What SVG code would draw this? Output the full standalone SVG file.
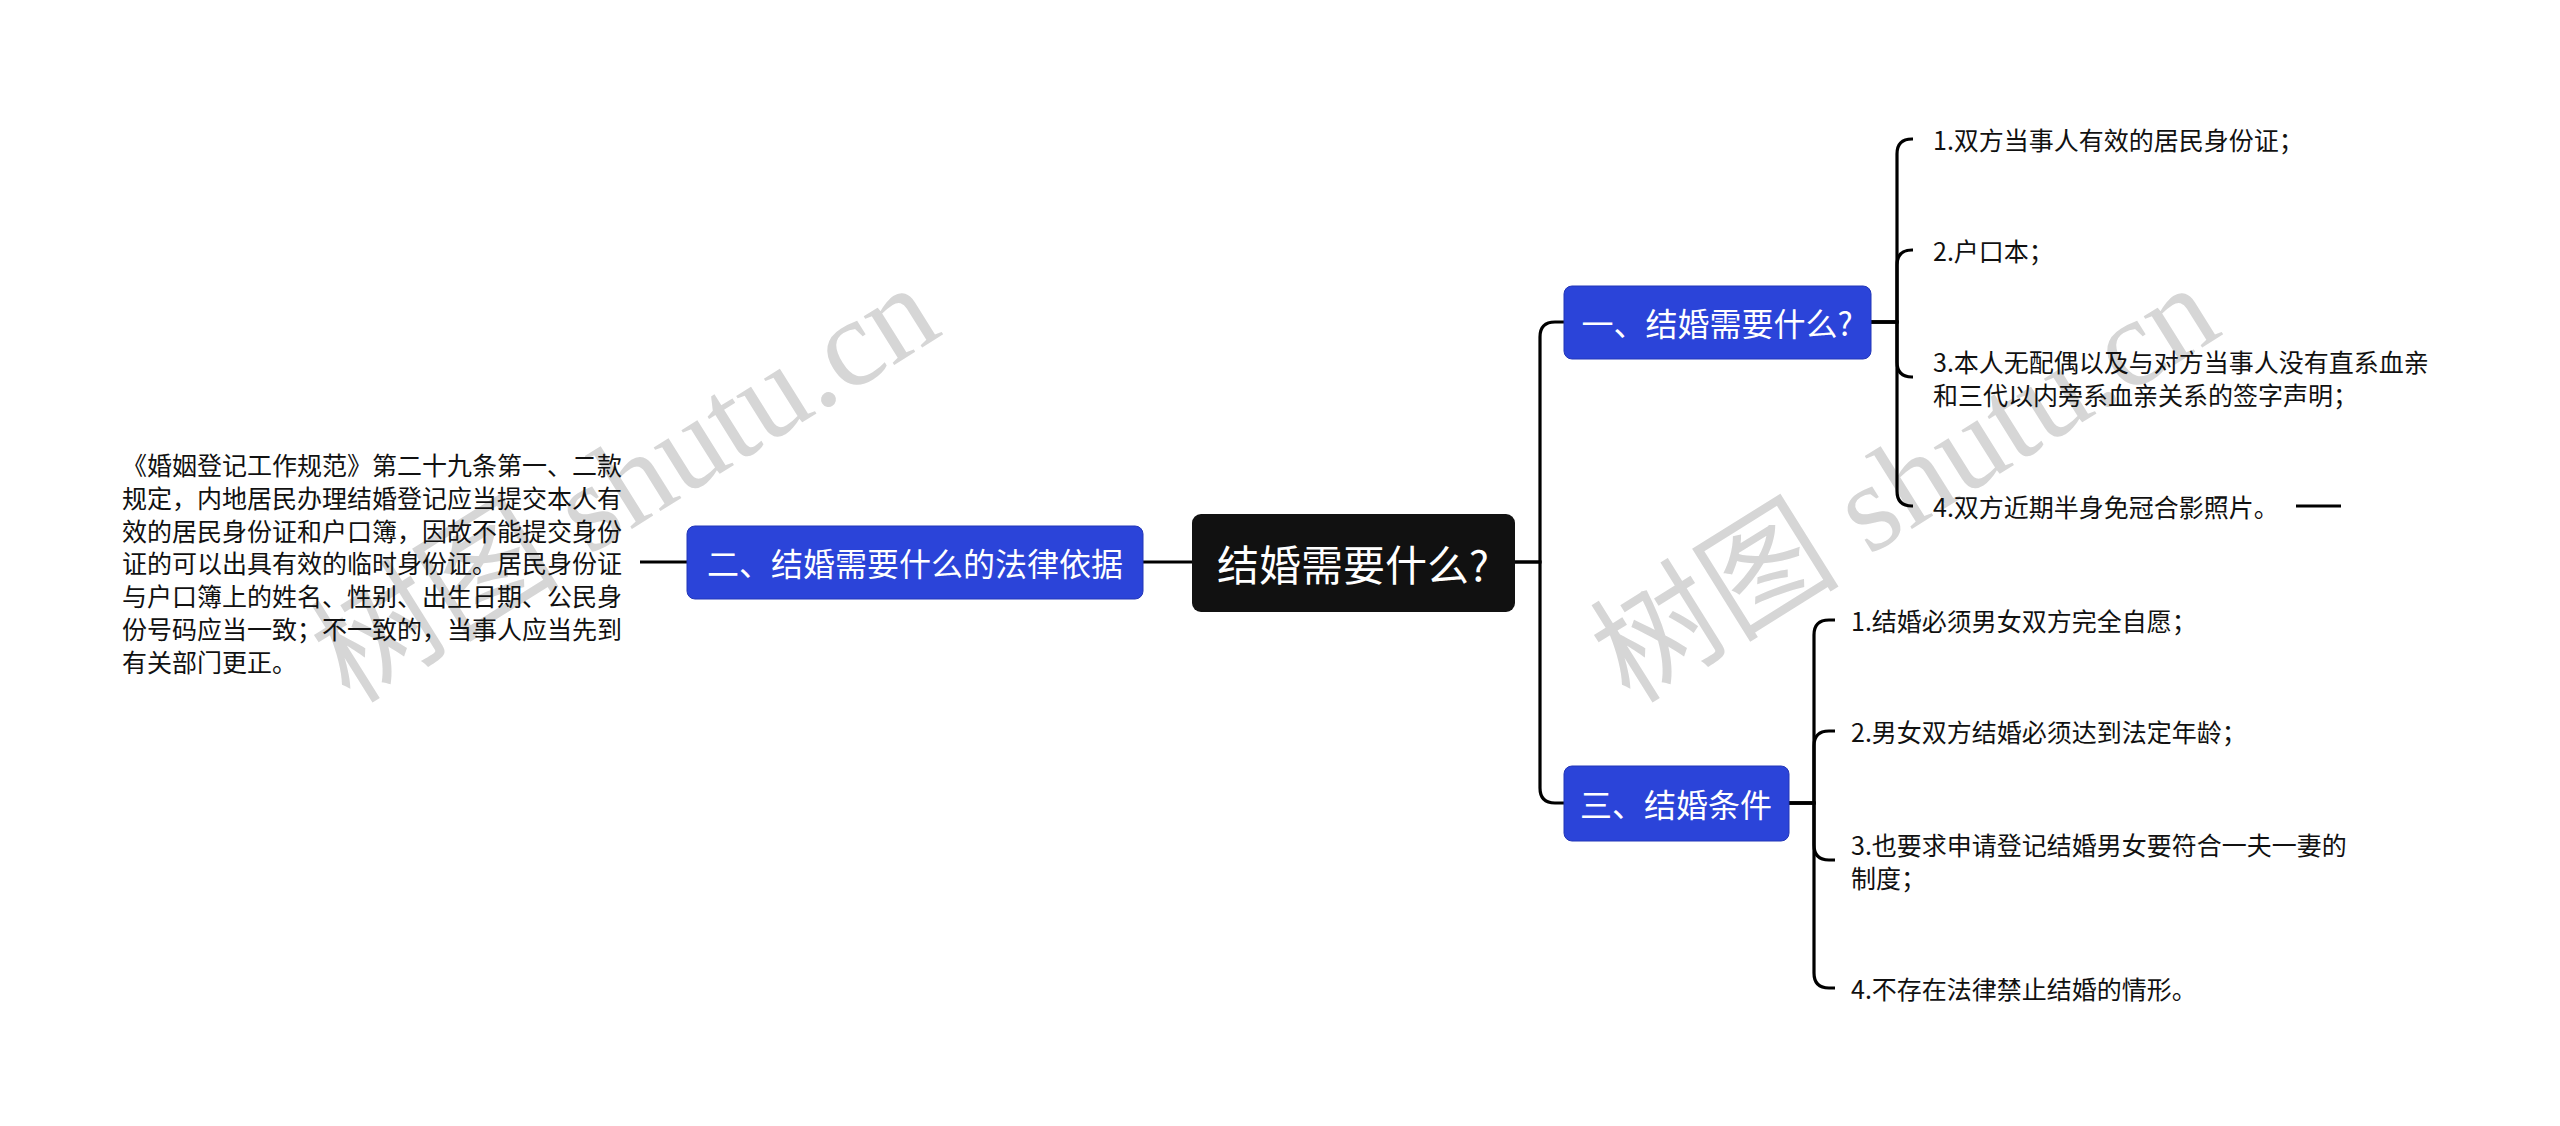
<svg xmlns="http://www.w3.org/2000/svg" width="2560" height="1126" viewBox="0 0 2560 1126">
<style>
.wm{font-family:"Liberation Serif","Noto Sans CJK SC",serif;font-size:125px;fill:#cfcfcf;opacity:0.85}
.conn{fill:none;stroke:#000;stroke-width:3.2;stroke-linecap:butt}
.blue{fill:#2b44d9;stroke:#2236b8;stroke-width:1}
.nt{font-family:"Noto Sans CJK SC","Microsoft YaHei",sans-serif;fill:#fff;text-anchor:middle;dominant-baseline:central}
.lt{font-family:"Noto Sans CJK SC","Microsoft YaHei",sans-serif;font-size:25px;fill:#111;dominant-baseline:central}
</style>
<rect width="2560" height="1126" fill="#fff"/>
<g id="watermarks">
<text class="wm" x="350" y="705" transform="rotate(-32 350 705)">树图 shutu.cn</text>
<text class="wm" x="1630" y="705" transform="rotate(-32 1630 705)">树图 shutu.cn</text>
</g>
<g id="connectors">
<path class="conn" d="M1143 562 H1192"/>
<path class="conn" d="M640 562 H687"/>
<path class="conn" d="M1515 562 H1540 V337 Q1540 322 1555 322 H1564"/>
<path class="conn" d="M1515 562 H1540 V788 Q1540 803 1555 803 H1564"/>
<path class="conn" d="M1871 322 H1897 V154 Q1897 139 1912 139 H1913"/>
<path class="conn" d="M1871 322 H1897 V265 Q1897 250 1912 250 H1913"/>
<path class="conn" d="M1871 322 H1897 V362 Q1897 377 1912 377 H1913"/>
<path class="conn" d="M1871 322 H1897 V491 Q1897 506 1912 506 H1913"/>
<path class="conn" d="M1789 803 H1814 V635 Q1814 620 1829 620 H1835"/>
<path class="conn" d="M1789 803 H1814 V746 Q1814 731 1829 731 H1835"/>
<path class="conn" d="M1789 803 H1814 V845 Q1814 860 1829 860 H1835"/>
<path class="conn" d="M1789 803 H1814 V973 Q1814 988 1829 988 H1835"/>
<path class="conn" d="M2296 506 H2341" stroke-width="4"/>
</g>
<g id="root">
<rect x="1192" y="514" width="323" height="98" rx="9" fill="#111"/>
<text class="nt" x="1353" y="562" font-size="42">结婚需要什么?</text>
</g>
<g id="node-2">
<rect class="blue" x="687" y="526" width="456" height="73" rx="8"/>
<text class="nt" x="915" y="562" font-size="32">二、结婚需要什么的法律依据</text>
</g>
<g id="node-2-detail">
<text class="lt" x="122" y="464">《婚姻登记工作规范》第二十九条第一、二款</text>
<text class="lt" x="122" y="497">规定，内地居民办理结婚登记应当提交本人有</text>
<text class="lt" x="122" y="530">效的居民身份证和户口簿，因故不能提交身份</text>
<text class="lt" x="122" y="562">证的可以出具有效的临时身份证。居民身份证</text>
<text class="lt" x="122" y="595">与户口簿上的姓名、性别、出生日期、公民身</text>
<text class="lt" x="122" y="628">份号码应当一致；不一致的，当事人应当先到</text>
<text class="lt" x="122" y="661">有关部门更正。</text>
</g>
<g id="node-1">
<rect class="blue" x="1564" y="286" width="307" height="73" rx="8"/>
<text class="nt" x="1717" y="322" font-size="32">一、结婚需要什么?</text>
</g>
<g id="node-1-1"><text class="lt" x="1933" y="139">1.双方当事人有效的居民身份证；</text></g>
<g id="node-1-2"><text class="lt" x="1933" y="250">2.户口本；</text></g>
<g id="node-1-3">
<text class="lt" x="1933" y="361">3.本人无配偶以及与对方当事人没有直系血亲</text>
<text class="lt" x="1933" y="394">和三代以内旁系血亲关系的签字声明；</text>
</g>
<g id="node-1-4"><text class="lt" x="1933" y="506">4.双方近期半身免冠合影照片。</text></g>
<g id="node-3">
<rect class="blue" x="1564" y="766" width="225" height="75" rx="8"/>
<text class="nt" x="1676" y="803" font-size="32">三、结婚条件</text>
</g>
<g id="node-3-1"><text class="lt" x="1851" y="620">1.结婚必须男女双方完全自愿；</text></g>
<g id="node-3-2"><text class="lt" x="1851" y="731">2.男女双方结婚必须达到法定年龄；</text></g>
<g id="node-3-3">
<text class="lt" x="1851" y="844">3.也要求申请登记结婚男女要符合一夫一妻的</text>
<text class="lt" x="1851" y="877">制度；</text>
</g>
<g id="node-3-4"><text class="lt" x="1851" y="988">4.不存在法律禁止结婚的情形。</text></g>
</svg>
